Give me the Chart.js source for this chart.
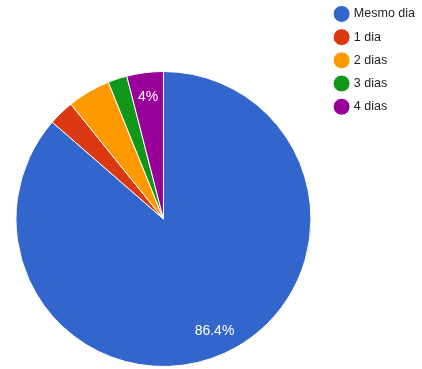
<!DOCTYPE html>
<html lang="pt">
  <head>
    <meta charset="UTF-8" />
    <title>Prazo</title>
    <script src="https://cdn.jsdelivr.net/npm/chart.js"></script>
    <style>
      html, body { margin: 0; padding: 0; background: #fff; }
      #wrap { width: 422px; height: 369px; }
    </style>
  </head>
  <body>
    <div id="wrap"><canvas id="pieChart" width="422" height="369"></canvas></div>
    <script>
      // categories and values (percent)
      const categories = ["Mesmo dia", "1 dia", "2 dias", "3 dias", "4 dias"];
      const values = [86.4, 2.8, 4.7, 2.1, 4.0];
      const sliceLabels = ["86.4%", "", "", "", "4%"];
      const colors = ["#3366cc", "#dc3912", "#ff9900", "#109618", "#990099"];

      // draw percent text inside slices
      const sliceText = {
        id: "sliceText",
        afterDatasetsDraw(chart) {
          const ctx = chart.ctx;
          const arcs = chart.getDatasetMeta(0).data;
          ctx.save();
          ctx.fillStyle = "#fff";
          ctx.font = "14px 'Liberation Sans', Arial, sans-serif";
          ctx.textAlign = "center";
          ctx.textBaseline = "middle";
          arcs.forEach((arc, i) => {
            if (!sliceLabels[i]) return;
            const p = arc.getProps(["x", "y", "startAngle", "endAngle", "outerRadius"], true);
            const mid = (p.startAngle + p.endAngle) / 2;
            const r = p.outerRadius * 0.835;
            ctx.fillText(sliceLabels[i], p.x + Math.cos(mid) * r, p.y + Math.sin(mid) * r);
          });
          ctx.restore();
        },
      };

      // keep the legend at the top right even though the pie is pushed down
      const legendTop = {
        id: "legendTop",
        afterLayout(chart) {
          const lg = chart.legend;
          const h = lg.bottom - lg.top;
          lg.top = -3;
          lg.bottom = lg.top + h;
          lg.left += 3;
          lg.right += 3;
        },
      };

      new Chart(document.getElementById("pieChart"), {
        type: "pie",
        data: {
          labels: categories,
          datasets: [
            {
              data: values,
              backgroundColor: colors,
              borderColor: "#fff",
              borderWidth: 1,
            },
          ],
        },
        options: {
          responsive: false,
          animation: false,
          layout: { padding: { top: 71, left: 5, bottom: 2, right: 0 } },
          plugins: {
            tooltip: { enabled: false },
            legend: {
              position: "right",
              align: "start",
              labels: {
                usePointStyle: true,
                pointStyle: "circle",
                boxWidth: 12,
                boxHeight: 12,
                padding: 10.7,
                color: "#222",
                font: { size: 12.5, family: "'Liberation Sans', Arial, sans-serif" },
              },
            },
          },
        },
        plugins: [sliceText, legendTop],
      });
    </script>
  </body>
</html>
